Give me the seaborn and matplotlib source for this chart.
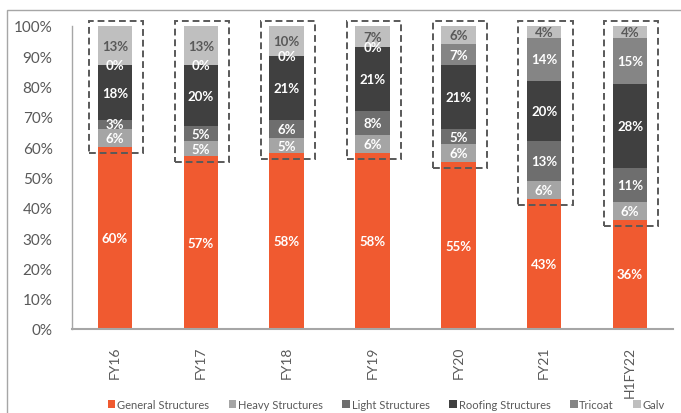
import numpy as np
import pandas as pd
import matplotlib
matplotlib.use("Agg")
import matplotlib.pyplot as plt
from matplotlib.patches import Rectangle
import seaborn as sns

# Segment mix by year (share of total, %)
years = ["FY16", "FY17", "FY18", "FY19", "FY20", "FY21", "H1FY22"]
general = [60, 57, 58, 58, 55, 43, 36]
heavy = [6, 5, 5, 6, 6, 6, 6]
light = [3, 5, 6, 8, 5, 13, 11]
roofing = [18, 20, 21, 21, 21, 20, 28]
tricoat = [0, 0, 0, 0, 7, 14, 15]
galv = [13, 13, 10, 7, 6, 4, 4]

segments = ["General Structures", "Heavy Structures", "Light Structures",
            "Roofing Structures", "Tricoat", "Galv"]
series = [general, heavy, light, roofing, tricoat, galv]
colors = ["#F05A30", "#A5A5A5", "#6E6E6E", "#404040", "#858585", "#BFBFBF"]
label_colors = ["white", "white", "white", "white", "white", "#595959"]

sns.set_theme(style="white")
plt.rcParams["font.family"] = ["Lato", "DejaVu Sans"]

fig = plt.figure(figsize=(6.81, 4.14), dpi=100)
ax = fig.add_axes([72 / 681, 1 - 330 / 414, (673 - 72) / 681, (330 - 27) / 414])

bottom = np.zeros(len(years))
for name, vals, col, lcol in zip(segments, series, colors, label_colors):
    vals = np.asarray(vals, dtype=float)
    sns.barplot(x=years, y=vals / 100, bottom=bottom / 100, color=col,
                width=0.4, ax=ax, label=name, saturation=1, linewidth=0)
    for i, v in enumerate(vals):
        ax.text(i, (bottom[i] + v / 2) / 100, f"{int(v)}%", ha="center",
                va="center", color=lcol, fontsize=9.5, fontweight="bold")
    bottom += vals

# dashed outline around the non-general segments of every bar
for i, g in enumerate(general):
    y0 = (g - 2) / 100
    ax.add_patch(Rectangle((i - 0.30, y0), 0.63, 1.016 - y0, fill=False,
                           ec="#595959", lw=1.4, ls=(0, (3.5, 2)),
                           clip_on=False, zorder=5))

ax.set_xlim(-0.5, 6.5)
ax.set_ylim(0, 1)
ticks = np.arange(0, 1.01, 0.1)
ax.set_yticks(ticks)
ax.set_yticklabels([f"{int(round(t * 100))}%" for t in ticks])
ax.tick_params(axis="y", length=0, pad=14, labelsize=11, labelcolor="#595959")
ax.tick_params(axis="x", length=0, pad=12, labelsize=10, labelcolor="#595959",
               labelrotation=90)
ax.set_xlabel("")
ax.set_ylabel("")
for s in ["top", "right"]:
    ax.spines[s].set_visible(False)
ax.spines["left"].set_color("#A6A6A6")
ax.spines["bottom"].set_color("#A6A6A6")
ax.spines["left"].set_linewidth(1.0)
ax.spines["bottom"].set_linewidth(1.5)

handles, labels = ax.get_legend_handles_labels()
ax.legend(handles, labels, loc="center", bbox_to_anchor=(0.523, -0.248),
          ncol=6, frameon=False, fontsize=8, labelcolor="#595959",
          handlelength=0.7, handleheight=0.7, handletextpad=0.15,
          columnspacing=1.75, borderaxespad=0, borderpad=0)

# chart frame
fig.add_artist(Rectangle((7 / 681, -0.1), 1.2, 1 - 11 / 414 + 0.1,
                         transform=fig.transFigure, fill=False,
                         ec="#A6A6A6", lw=1.0))

fig.savefig("out.png", dpi=100)
